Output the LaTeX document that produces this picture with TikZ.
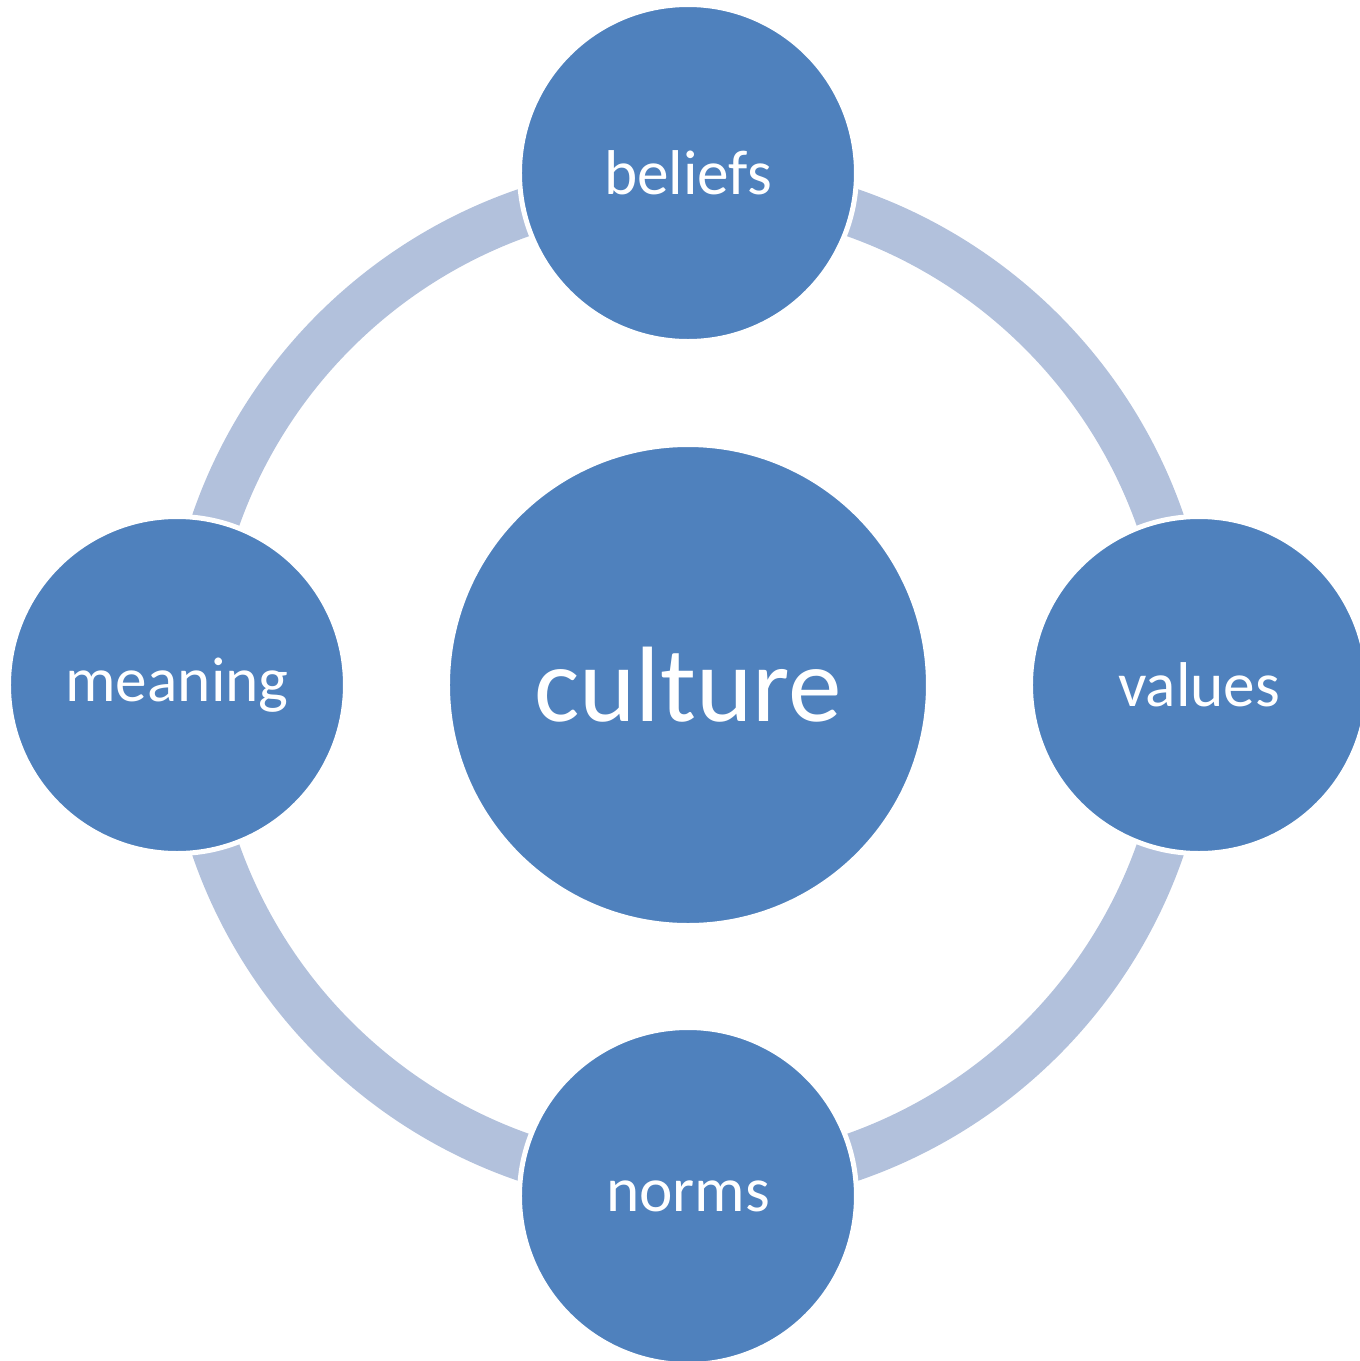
\documentclass[tikz,border=0pt]{standalone}
\usepackage{fontspec}
\setmainfont{Carlito}
\usetikzlibrary{positioning}
\definecolor{CycleBlue}{HTML}{4F81BD}
\definecolor{RingBlue}{HTML}{B2C1DC}

\begin{document}
\begin{tikzpicture}[
	hubcircle/.style={
		circle,
		draw=white,
		line width=0.5mm,
		fill=CycleBlue,
		inner sep=0pt,
		minimum size=4.81cm,
		text=white,
		font=\fontsize{30.5}{36}\selectfont
	},
	itemcircle/.style={
		circle,
		draw=white,
		line width=0.5mm,
		fill=CycleBlue,
		inner sep=0pt,
		minimum size=3.37cm,
		text=white,
		font=\fontsize{18}{22}\selectfont
	},
	ringline/.style={
		draw=RingBlue,
		line width=4.8mm
	}
	]
	
	\useasboundingbox (-6.88,-6.76) rectangle (6.72,6.85);
	
	\node[hubcircle] (culture) at (0,0) {culture};
	
	% ring behind the outer circles
	\draw[ringline] (culture.center) circle (5cm);
	
	\node[itemcircle] (beliefs) at (0,5.12) {beliefs};
	\node[itemcircle] (values) at (5.11,0) {values};
	\node[itemcircle] (norms) at (0,-5.11) {norms};
	\node[itemcircle] (meaning) at (-5.11,0) {meaning};
	
\end{tikzpicture}
\end{document}
